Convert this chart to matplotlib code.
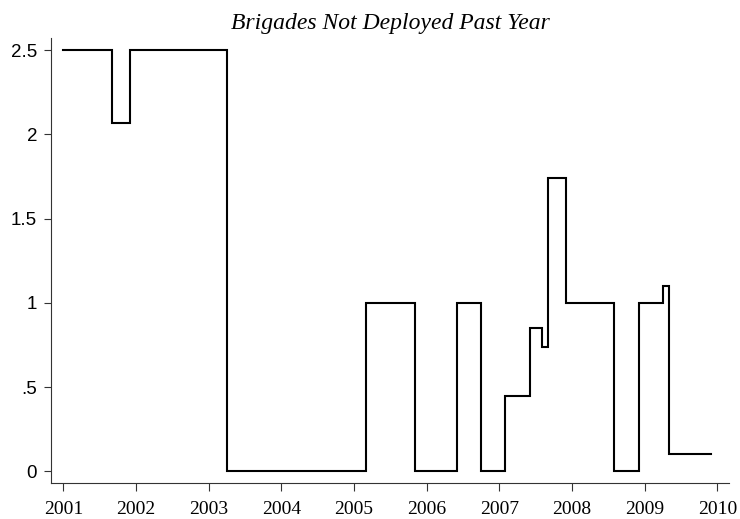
import matplotlib
matplotlib.use("Agg")
import matplotlib.pyplot as plt

# month each level starts (year-month), last entry is where the series ends
STEP_DATES = [
    "2001-01", "2001-09", "2001-12", "2003-04", "2005-03", "2005-11",
    "2006-06", "2006-10", "2007-02", "2007-06", "2007-08", "2007-09",
    "2007-12", "2008-08", "2008-12", "2009-04", "2009-05", "2009-12",
]
LEVELS = [2.5, 2.07, 2.5, 0, 1, 0, 1, 0, 0.45, 0.85, 0.74, 1.74, 1, 0, 1, 1.1, 0.1]

YEAR_TICKS = list(range(2001, 2011))
Y_TICKS = [0, 0.5, 1, 1.5, 2, 2.5]
Y_LABELS = ["0", ".5", "1", "1.5", "2", "2.5"]
TITLE = "Brigades Not Deployed Past Year"


def to_year(s):
    y, m = s.split("-")
    return int(y) + (int(m) - 1) / 12


x = [to_year(d) for d in STEP_DATES]
y = LEVELS + [LEVELS[-1]]

fig = plt.figure(figsize=(7.4, 5.19), dpi=100)
ax = fig.add_axes([51 / 740, 1 - 483 / 519, (729 - 51) / 740, (483 - 38) / 519])

ax.plot(x, y, drawstyle="steps-post", color="black", linewidth=1.5,
        solid_joinstyle="miter")

ax.set_xlim(2000.831, 2010.161)
ax.set_ylim(-0.0695, 2.573)

for side in ("top", "right"):
    ax.spines[side].set_visible(False)
for side in ("left", "bottom"):
    ax.spines[side].set_color("#333333")
    ax.spines[side].set_linewidth(0.8)

ax.set_xticks(YEAR_TICKS)
ax.set_xticklabels([str(t) for t in YEAR_TICKS], family="Liberation Serif", fontsize=14)
ax.set_yticks(Y_TICKS)
ax.set_yticklabels(Y_LABELS, family="Liberation Sans", fontsize=13.5)
ax.tick_params(axis="x", length=6, width=0.8, color="#333333", pad=7)
ax.tick_params(axis="y", length=5, width=0.8, color="#333333", pad=5)

fig.text((51 + 729) / 2 / 740, 1 - 23 / 519, TITLE, ha="center", va="center",
         family="Liberation Serif", style="italic", fontsize=17)

fig.savefig("out.png", dpi=100, facecolor="white")
